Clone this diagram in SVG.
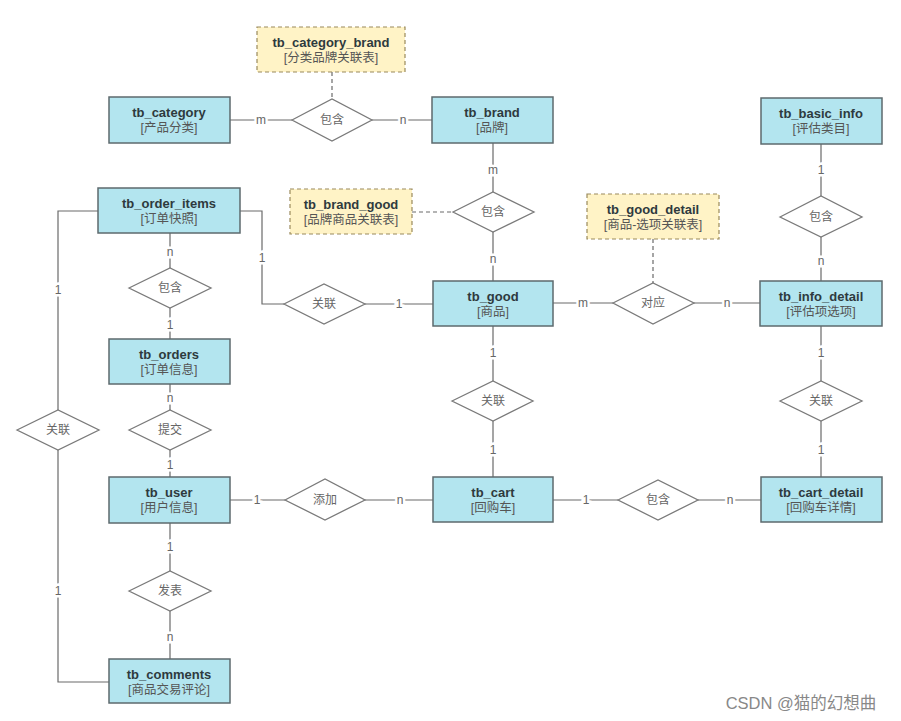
<svg xmlns="http://www.w3.org/2000/svg" width="901" height="721" viewBox="0 0 901 721">
<style>
.ent{fill:#b3e5ef;stroke:#5d6a6e;stroke-width:1.5}
.assoc{fill:#fff3c6;stroke:#9a8a5c;stroke-width:1.2;stroke-dasharray:4 3}
.rel{fill:#fff;stroke:#7a7a7a;stroke-width:1.3}
.t{font-family:"Liberation Sans","Noto Sans CJK SC",sans-serif;font-size:13px;font-weight:bold;fill:#2e3a3e;text-anchor:middle}
.s{font-family:"Liberation Sans","Noto Sans CJK SC",sans-serif;font-size:12.5px;fill:#555;text-anchor:middle}
.r{font-family:"Noto Sans CJK SC",sans-serif;font-size:12px;fill:#666;text-anchor:middle}
.c{font-family:"Liberation Sans",sans-serif;font-size:12px;fill:#666;text-anchor:middle;stroke:#fff;stroke-width:5;paint-order:stroke}
.ln{fill:none;stroke:#6a6a6a;stroke-width:1.2}
.dl{fill:none;stroke:#6a6a6a;stroke-width:1.2;stroke-dasharray:4 3}
</style>
<rect width="901" height="721" fill="#fff"/>
<g id="connectors">
<path class="dl" d="M332 72V99"/>
<path class="dl" d="M412 212H453"/>
<path class="dl" d="M653 239V283"/>
<path class="ln" d="M230 120H292M372 120H432"/>
<path class="ln" d="M493 142V192M493 232V282"/>
<path class="ln" d="M553 303H613M694 303H760"/>
<path class="ln" d="M821 143V196M821 237V281"/>
<path class="ln" d="M821 326V381M821 421V477"/>
<path class="ln" d="M493 326V381M493 421V477"/>
<path class="ln" d="M240 211H262V304H284M365 304H433"/>
<path class="ln" d="M170 233V268M170 308V339"/>
<path class="ln" d="M170 384V410M170 450V477"/>
<path class="ln" d="M170 523V571M170 611V659"/>
<path class="ln" d="M230 500H285M365 500H433"/>
<path class="ln" d="M553 500H618M698 500H761"/>
<path class="ln" d="M98 211H58V410M58 450V682H109"/>
<text class="c" x="261" y="124">m</text>
<text class="c" x="403" y="124">n</text>
<text class="c" x="493" y="174">m</text>
<text class="c" x="493" y="263">n</text>
<text class="c" x="583" y="307">m</text>
<text class="c" x="727" y="307">n</text>
<text class="c" x="821" y="174">1</text>
<text class="c" x="821" y="265">n</text>
<text class="c" x="821" y="357">1</text>
<text class="c" x="821" y="454">1</text>
<text class="c" x="493" y="357">1</text>
<text class="c" x="493" y="454">1</text>
<text class="c" x="262" y="262">1</text>
<text class="c" x="399" y="308">1</text>
<text class="c" x="170" y="256">n</text>
<text class="c" x="170" y="329">1</text>
<text class="c" x="170" y="402">n</text>
<text class="c" x="170" y="469">1</text>
<text class="c" x="170" y="551">1</text>
<text class="c" x="170" y="641">n</text>
<text class="c" x="257" y="504">1</text>
<text class="c" x="400" y="504">n</text>
<text class="c" x="586" y="504">1</text>
<text class="c" x="730" y="504">n</text>
<text class="c" x="58" y="294">1</text>
<text class="c" x="58" y="595">1</text>
</g>
<g id="tb_category_brand"><rect class="assoc" x="257" y="27" width="148" height="45"/><text class="t" x="331" y="47">tb_category_brand</text><text class="s" x="331" y="62">[分类品牌关联表]</text></g>
<g id="tb_brand_good"><rect class="assoc" x="290" y="189" width="122" height="45"/><text class="t" x="351" y="209">tb_brand_good</text><text class="s" x="351" y="224">[品牌商品关联表]</text></g>
<g id="tb_good_detail"><rect class="assoc" x="587" y="194" width="132" height="45"/><text class="t" x="653" y="214">tb_good_detail</text><text class="s" x="653" y="229">[商品-选项关联表]</text></g>
<g id="tb_category"><rect class="ent" x="109" y="97" width="121" height="46"/><text class="t" x="169" y="117">tb_category</text><text class="s" x="169" y="132">[产品分类]</text></g>
<g id="tb_brand"><rect class="ent" x="432" y="97" width="121" height="46"/><text class="t" x="492" y="117">tb_brand</text><text class="s" x="492" y="132">[品牌]</text></g>
<g id="tb_basic_info"><rect class="ent" x="761" y="98" width="121" height="46"/><text class="t" x="821" y="118">tb_basic_info</text><text class="s" x="821" y="133">[评估类目]</text></g>
<g id="tb_order_items"><rect class="ent" x="98" y="188" width="142" height="45"/><text class="t" x="169" y="208">tb_order_items</text><text class="s" x="169" y="223">[订单快照]</text></g>
<g id="tb_good"><rect class="ent" x="433" y="281" width="120" height="45"/><text class="t" x="493" y="301">tb_good</text><text class="s" x="493" y="316">[商品]</text></g>
<g id="tb_info_detail"><rect class="ent" x="760" y="281" width="122" height="45"/><text class="t" x="821" y="301">tb_info_detail</text><text class="s" x="821" y="316">[评估项选项]</text></g>
<g id="tb_orders"><rect class="ent" x="109" y="339" width="121" height="45"/><text class="t" x="169" y="359">tb_orders</text><text class="s" x="169" y="374">[订单信息]</text></g>
<g id="tb_user"><rect class="ent" x="109" y="477" width="121" height="46"/><text class="t" x="169" y="497">tb_user</text><text class="s" x="169" y="512">[用户信息]</text></g>
<g id="tb_cart"><rect class="ent" x="433" y="477" width="120" height="45"/><text class="t" x="493" y="497">tb_cart</text><text class="s" x="493" y="512">[回购车]</text></g>
<g id="tb_cart_detail"><rect class="ent" x="761" y="477" width="121" height="45"/><text class="t" x="821" y="497">tb_cart_detail</text><text class="s" x="821" y="512">[回购车详情]</text></g>
<g id="tb_comments"><rect class="ent" x="109" y="659" width="121" height="44"/><text class="t" x="169" y="679">tb_comments</text><text class="s" x="169" y="694">[商品交易评论]</text></g>
<g id="rel_category_brand"><polygon class="rel" points="292,120 332,99 372,120 332,141"/><text class="r" x="332" y="124">包含</text></g>
<g id="rel_brand_good"><polygon class="rel" points="453,212 493,192 534,212 493,232"/><text class="r" x="493" y="216">包含</text></g>
<g id="rel_good_detail"><polygon class="rel" points="613,303 653,283 694,303 653,324"/><text class="r" x="653" y="307">对应</text></g>
<g id="rel_basic_info"><polygon class="rel" points="780,217 821,196 862,217 821,237"/><text class="r" x="821" y="221">包含</text></g>
<g id="rel_items_good"><polygon class="rel" points="284,304 324,284 365,304 324,324"/><text class="r" x="324" y="308">关联</text></g>
<g id="rel_items_orders"><polygon class="rel" points="129,288 170,268 211,288 170,308"/><text class="r" x="170" y="292">包含</text></g>
<g id="rel_left"><polygon class="rel" points="17,430 58,410 99,430 58,450"/><text class="r" x="58" y="434">关联</text></g>
<g id="rel_submit"><polygon class="rel" points="129,430 170,410 211,430 170,450"/><text class="r" x="170" y="434">提交</text></g>
<g id="rel_good_cart"><polygon class="rel" points="452,401 493,381 533,401 493,421"/><text class="r" x="493" y="405">关联</text></g>
<g id="rel_info_cart"><polygon class="rel" points="780,401 821,381 862,401 821,421"/><text class="r" x="821" y="405">关联</text></g>
<g id="rel_add"><polygon class="rel" points="285,500 325,479 365,500 325,520"/><text class="r" x="325" y="504">添加</text></g>
<g id="rel_cart_detail"><polygon class="rel" points="618,500 658,480 698,500 658,520"/><text class="r" x="658" y="504">包含</text></g>
<g id="rel_publish"><polygon class="rel" points="129,591 170,571 211,591 170,611"/><text class="r" x="170" y="595">发表</text></g>
<text x="801" y="709" font-family="'Liberation Sans','Noto Sans CJK SC',sans-serif" font-size="16.5" fill="#888" text-anchor="middle">CSDN @猫的幻想曲</text>
</svg>
